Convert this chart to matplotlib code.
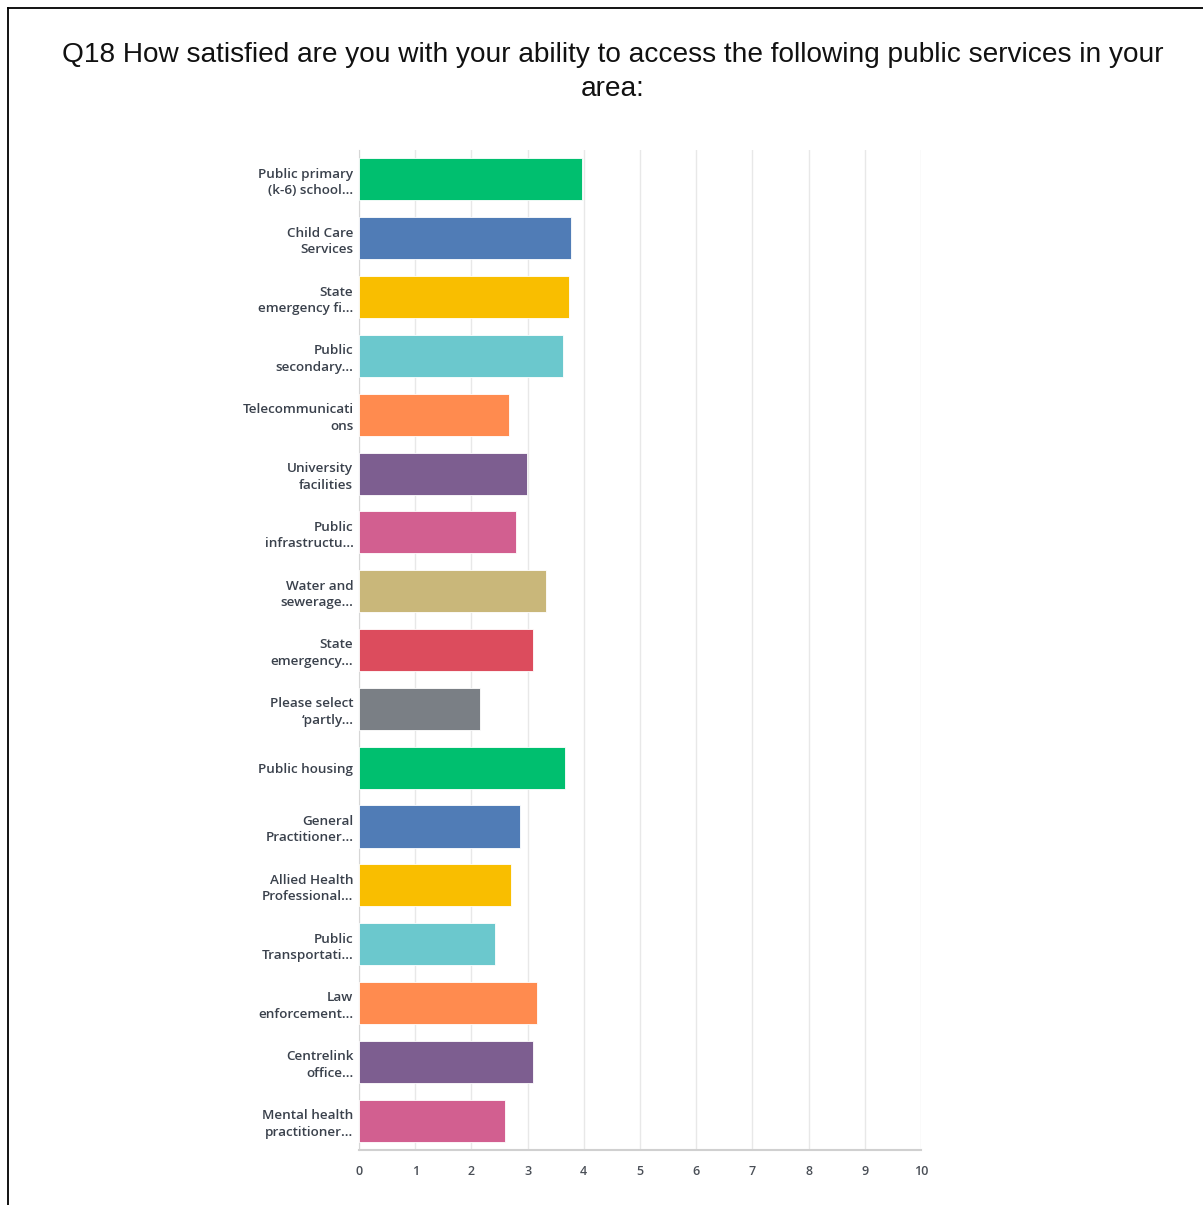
import matplotlib.pyplot as plt
from matplotlib.lines import Line2D

# Weighted average satisfaction per service (0-10 scale)
services = [
    "Public primary\n(k-6) school...",
    "Child Care\nServices",
    "State\nemergency fi...",
    "Public\nsecondary...",
    "Telecommunicati\nons",
    "University\nfacilities",
    "Public\ninfrastructu...",
    "Water and\nsewerage...",
    "State\nemergency...",
    "Please select\n\u2018partly...",
    "Public housing",
    "General\nPractitioner...",
    "Allied Health\nProfessional...",
    "Public\nTransportati...",
    "Law\nenforcement...",
    "Centrelink\noffice...",
    "Mental health\npractitioner...",
]
scores = [3.96, 3.78, 3.74, 3.63, 2.67, 2.99, 2.80, 3.32, 3.09, 2.15,
          3.66, 2.86, 2.71, 2.42, 3.17, 3.09, 2.59]
palette = ["#00bf6f", "#507cb6", "#f9be00", "#6bc8cd", "#ff8b4f",
           "#7d5e90", "#d25f90", "#c9b77a", "#dc4c5d", "#7a7f85"]
colors = [palette[i % len(palette)] for i in range(len(scores))]

fig = plt.figure(figsize=(12.03, 12.05), dpi=100)

# frame around the whole panel
fig.add_artist(Line2D([8 / 1203, 8 / 1203], [0, 1 - 8 / 1205],
                      transform=fig.transFigure, color="black", lw=1.3))
fig.add_artist(Line2D([8 / 1203, 1], [1 - 8 / 1205, 1 - 8 / 1205],
                      transform=fig.transFigure, color="black", lw=1.3))

fig.text(0.509, 1 - 72 / 1205,
         "Q18 How satisfied are you with your ability to access the following public services in your\narea:",
         ha="center", va="center", fontsize=20.2, family="Liberation Sans",
         linespacing=1.42, color="#111111")

ax = fig.add_axes([359 / 1203, 55 / 1205, 562 / 1203, 1000 / 1205])
ypos = list(range(len(scores)))
ax.barh(ypos, scores, height=0.715, color=colors, edgecolor="white",
        linewidth=0.6, zorder=3)
ax.set_ylim(len(scores) - 0.5, -0.5)
ax.set_xlim(0, 10)
ax.set_xticks(range(11))
ax.set_yticks(ypos)
ax.set_yticklabels(services, family="Open Sans", fontweight="semibold",
                   fontsize=9.7, color="#3a414c", linespacing=1.35)
for lbl in ax.get_xticklabels():
    lbl.set_family("Open Sans")
    lbl.set_fontweight("semibold")
    lbl.set_fontsize(9)
    lbl.set_color("#4a4f57")
ax.tick_params(axis="y", length=0, pad=4)
ax.tick_params(axis="x", length=0, pad=11)
ax.grid(axis="x", color="#e8e8e8", lw=1, zorder=0)
for side in ["top", "right"]:
    ax.spines[side].set_visible(False)
ax.spines["left"].set_color("#d6d6d6")
ax.spines["bottom"].set_color("#d0d0d0")
ax.spines["bottom"].set_linewidth(1.5)

fig.savefig("out.png", dpi=100)
